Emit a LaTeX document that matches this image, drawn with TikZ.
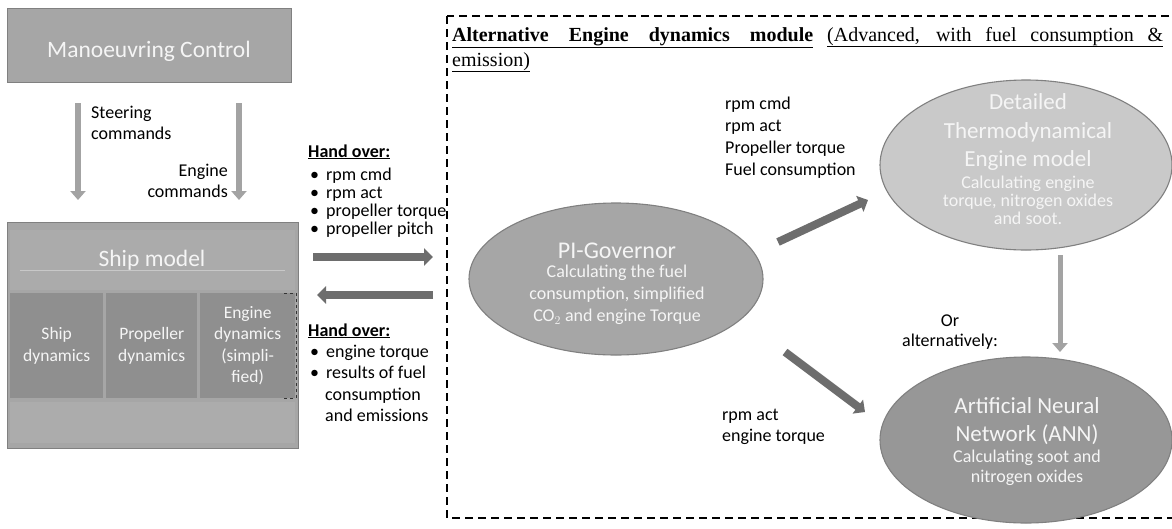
\documentclass[tikz,border=0pt]{standalone}
\usepackage{fontspec}
\setmainfont{Carlito}
\newfontfamily\ttlfont{Liberation Serif}
\usetikzlibrary{arrows.meta,shapes.geometric}

\definecolor{boxgray}{HTML}{A6A6A6}
\definecolor{subgray}{HTML}{8F8F8F}
\definecolor{edgegray}{HTML}{808080}
\definecolor{darkarrow}{HTML}{6D6D6D}
\definecolor{lightarrow}{HTML}{A3A3A3}
\definecolor{pale}{HTML}{C9C9C9}
\definecolor{annfill}{HTML}{979797}

\tikzset{
  box/.style={draw=edgegray, fill=boxgray, line width=1pt, inner sep=0pt},
  subbox/.style={fill=subgray, inner sep=0pt},
  ell/.style={ellipse, draw=edgegray, line width=1.1pt, inner sep=0pt},
  wtxt/.style={text=white!96!black, align=center, inner sep=0pt},
  ktxt/.style={text=black, align=left, inner sep=0pt},
  ttl/.style={inner sep=0pt, anchor=base west, font=\ttlfont\fsz{20}{25}},
  thinarrow/.style={line width=6pt, lightarrow, -{Triangle[length=9pt,width=15pt]}},
  fatarrow/.style={line width=8pt, darkarrow, -{Triangle[length=9pt,width=17pt]}},
  modframe/.style={line width=1.1pt, dash pattern=on 8pt off 5pt},
}
\newcommand{\fsz}[2]{\fontsize{#1}{#2}\selectfont}

\begin{document}
\begin{tikzpicture}[x=1pt,y=-1pt]
  \useasboundingbox[fill=white] (0,0) rectangle (1172,528);

  %% left part: manoeuvring control and ship model
  \node[box, minimum width=284pt, minimum height=74pt, anchor=north west] (ctrl) at (7,8) {};
  \node[wtxt, font=\fsz{23.5}{28}] (ctrlt) at (149,51) {Manoeuvring Control};

  \coordinate (st1) at (78,103); \coordinate (st2) at (78,200);
  \coordinate (en1) at (239,103); \coordinate (en2) at (239,200);
  \draw[thinarrow] (st1) -- (st2);
  \draw[thinarrow] (en1) -- (en2);
  \node[ktxt, font=\fsz{18}{21}, anchor=west] (stl) at (91,123) {Steering\\commands};
  \node[ktxt, align=right, font=\fsz{18}{21}, anchor=east] (enl) at (228,181) {Engine\\commands};

  \node[box, minimum width=291pt, minimum height=226pt, anchor=north west] (ship) at (7,222) {};
  \fill[white, opacity=.06] (10,230) rectangle (295,290);
  \draw[white, opacity=.35, line width=.8pt] (20,270) -- (285,270);
  \fill[white, opacity=.08] (10,402) rectangle (295,443);
  \node[wtxt, font=\fsz{23.5}{28}] (shipt) at (152,260) {Ship model};
  \node[subbox, minimum width=93pt, minimum height=105pt, anchor=north west] (sd) at (10,293) {};
  \node[subbox, minimum width=91pt, minimum height=105pt, anchor=north west] (pd) at (106,293) {};
  \node[subbox, minimum width=95pt, minimum height=105pt, anchor=north west] (ed) at (200,293) {};
  \node[wtxt, font=\fsz{17.5}{21.5}] (sdt) at (sd) {Ship\\dynamics};
  \node[wtxt, font=\fsz{17.5}{21.5}] (pdt) at (pd) {Propeller\\dynamics};
  \node[wtxt, font=\fsz{17.5}{21.5}] (edt) at (ed) {Engine\\dynamics\\(simpli-\\fied)};
  \draw[black!80, dashed, line width=1pt] (284,293) -- (296,293) -- (296,398) -- (284,398);

  %% hand over lists
  \node[ktxt, font=\bfseries\fsz{18}{20}, anchor=base west] (ho1) at (308,157) {\underline{Hand over:}};
  \foreach \t [count=\i] in {rpm cmd, rpm act, propeller torque, propeller pitch}
    \node[ktxt, font=\fsz{18}{20}, anchor=base west] (hoa\i) at (310,162+18*\i) {\textbullet\hspace{7pt}\t};
  \node[ktxt, font=\bfseries\fsz{18}{20}, anchor=base west] (ho2) at (308,336) {\underline{Hand over:}};
  \foreach \t [count=\i] in {engine torque, results of fuel}
    \node[ktxt, font=\fsz{18}{20}, anchor=base west] (hob\i) at (310,336+21*\i) {\textbullet\hspace{7pt}\t};
  \node[ktxt, font=\fsz{18}{21.5}, anchor=base west] (hob3) at (325,400) {consumption};
  \node[ktxt, font=\fsz{18}{21.5}, anchor=base west] (hob4) at (325,421) {and emissions};

  \coordinate (hoA) at (313,257); \coordinate (hoB) at (433,257);
  \coordinate (hoC) at (433,295); \coordinate (hoD) at (317,295);
  \draw[fatarrow] (hoA) -- (hoB);
  \draw[fatarrow] (hoC) -- (hoD);

  %% alternative engine module
  \draw[modframe] (447,16) rectangle (1190,518);
  \node[ttl] (ttl1) at (452,41) {\underline{\makebox[361pt][s]{\bfseries Alternative Engine dynamics module}}};
  \node[ttl] (ttl2) at (827,41) {\underline{\makebox[336pt][s]{(Advanced, with fuel consumption \&}}};
  \node[ttl] (ttl3) at (452,66) {\underline{emission)}};

  \node[ell, fill=boxgray, minimum width=294pt, minimum height=152pt] (pig) at (616,279) {};
  \node[wtxt, font=\fsz{24}{28}] (pigt) at (617,251) {PI-Governor};
  \node[wtxt, font=\fsz{18}{22}] (pigs) at (617,295) {Calculating the fuel\\consumption, simplified\\CO$_2$ and engine Torque};

  \node[ell, fill=pale, minimum width=292pt, minimum height=170pt] (thd) at (1026,165) {};
  \node[wtxt, font=\fsz{23}{28.5}] (thdt) at (1028,132) {Detailed\\Thermodynamical\\Engine model};
  \node[wtxt, font=\fsz{18}{18}] (thds) at (1028,200) {Calculating engine\\torque, nitrogen oxides\\and soot.};

  \node[ell, fill=annfill, minimum width=292pt, minimum height=166pt] (ann) at (1026,440) {};
  \node[wtxt, font=\fsz{23}{28}] (annt) at (1027,421) {Artificial Neural\\Network (ANN)};
  \node[wtxt, font=\fsz{18}{20}] (anns) at (1027,468) {Calculating soot and\\nitrogen oxides};

  \node[ktxt, font=\fsz{18}{22}, anchor=west] (up) at (725,138) {rpm cmd\\rpm act\\Propeller torque\\Fuel consumption};
  \node[ktxt, font=\fsz{18}{21}, anchor=west] (dn) at (722,427) {rpm act\\engine torque};
  \node[ktxt, align=center, font=\fsz{18}{20}] (alt) at (950,332) {Or\\alternatively:};

  \coordinate (pu1) at (778,242); \coordinate (pu2) at (868,200);
  \coordinate (pd1) at (785,352); \coordinate (pd2) at (865,412);
  \coordinate (vd1) at (1060,255); \coordinate (vd2) at (1060,352);
  \draw[fatarrow] (pu1) -- (pu2);
  \draw[fatarrow] (pd1) -- (pd2);
  \draw[thinarrow, line width=5pt] (vd1) -- (vd2);
\end{tikzpicture}
\end{document}
